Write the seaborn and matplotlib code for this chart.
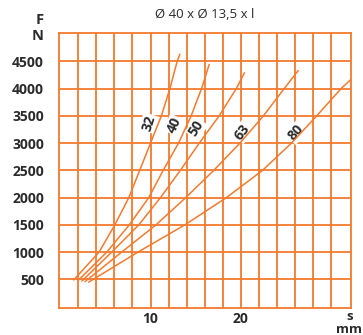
import numpy as np
import pandas as pd
import seaborn as sns
import matplotlib.pyplot as plt

# spring diameter curves: stroke s (mm) vs force F (N)
diameters = ["32", "40", "50", "63", "80"]

stroke_32 = [1.5, 4.3, 6.05, 7.6, 8.8, 10.0, 11.2, 12.15, 12.95, 13.25]
force_32 = [490, 1000, 1500, 2000, 2500, 3000, 3500, 4000, 4500, 4630]

stroke_40 = [2.05, 5.15, 7.65, 9.8, 11.4, 13.1, 14.5, 15.65, 16.5]
force_40 = [490, 1000, 1500, 2000, 2500, 3000, 3500, 4000, 4445]

stroke_50 = [2.4, 5.7, 8.7, 11.1, 13.3, 15.4, 17.6, 19.5, 20.4]
force_50 = [470, 1000, 1500, 2000, 2500, 3000, 3500, 4000, 4290]

stroke_63 = [2.75, 6.8, 10.6, 13.9, 17.0, 19.9, 22.5, 24.8, 26.35]
force_63 = [460, 1000, 1500, 2000, 2500, 3000, 3500, 4000, 4330]

stroke_80 = [3.15, 8.6, 13.8, 18.4, 22.4, 25.6, 28.4, 31.1, 32.2]
force_80 = [450, 1000, 1500, 2000, 2500, 3000, 3500, 4000, 4170]

x_tick_labels = {10: "10", 20: "20"}
y_tick_labels = [500, 1000, 1500, 2000, 2500, 3000, 3500, 4000, 4500]
title = "Ø 40 x Ø 13,5 x l"

strokes = [stroke_32, stroke_40, stroke_50, stroke_63, stroke_80]
forces = [force_32, force_40, force_50, force_63, force_80]
df = pd.concat(
    [pd.DataFrame({"s": s, "F": f, "d": d}) for d, s, f in zip(diameters, strokes, forces)],
    ignore_index=True,
)

sns.set_style("white")
plt.rcParams["font.family"] = ["Open Sans", "DejaVu Sans"]

orange = "#F47A2E"
text_col = "#2b2b2b"

fig = plt.figure(figsize=(3.63, 3.35), dpi=100)
ax = fig.add_axes([59.3 / 363, 26.7 / 335, 291.7 / 363, 275 / 335])

sns.lineplot(data=df, x="s", y="F", hue="d", palette=[orange] * 5,
             estimator=None, sort=False, legend=False, linewidth=1.1,
             zorder=5, ax=ax)

ax.set_xlim(-0.1, 32.2)
ax.set_ylim(-30, 5015)

xt = np.arange(2, 32, 2)
ax.set_xticks(xt)
ax.set_xticklabels([x_tick_labels.get(int(v), "") for v in xt])
yt = np.arange(500, 5000, 500)
ax.set_yticks(yt)
ax.set_yticklabels([str(v) if v in y_tick_labels else "" for v in yt])
ax.tick_params(axis="both", length=0, labelsize=10, labelcolor=text_col)
ax.tick_params(axis="y", pad=11)
ax.tick_params(axis="x", pad=3)
for lab in ax.get_xticklabels() + ax.get_yticklabels():
    lab.set_fontweight("bold")

ax.grid(True, color=orange, linewidth=1.3)
ax.set_axisbelow(True)
for sp in ax.spines.values():
    sp.set_color(orange)
    sp.set_linewidth(1.3)
ax.set_xlabel("")
ax.set_ylabel("")

# curve labels, sitting just left of each curve
label_pos = {"32": (9.8, 3370, 72), "40": (12.6, 3330, 66), "50": (15.1, 3270, 58),
             "63": (20.2, 3200, 52), "80": (26.1, 3190, 48)}
for d in diameters:
    x, y, r = label_pos[d]
    ax.text(x, y, d, rotation=r, rotation_mode="anchor", ha="center", va="center",
            fontsize=10, fontweight="bold", color=text_col, zorder=4,
            bbox=dict(facecolor="white", edgecolor="none", pad=0.8))

fig.text(205 / 363, 1 - 15 / 335, title, ha="center", va="center",
         fontsize=9.5, color=text_col)
fig.text(43.5 / 363, 1 - 20 / 335, "F", ha="right", va="center",
         fontsize=10.5, fontweight="bold", color=text_col)
fig.text(43.5 / 363, 1 - 36 / 335, "N", ha="right", va="center",
         fontsize=10.5, fontweight="bold", color=text_col)
fig.text(350 / 363, 1 - 317 / 335, "s", ha="center", va="center",
         fontsize=9.5, fontweight="bold", color=text_col)
fig.text(349 / 363, 1 - 329.5 / 335, "mm", ha="center", va="center",
         fontsize=9.5, fontweight="bold", color=text_col)

fig.savefig("out.png", dpi=100)
